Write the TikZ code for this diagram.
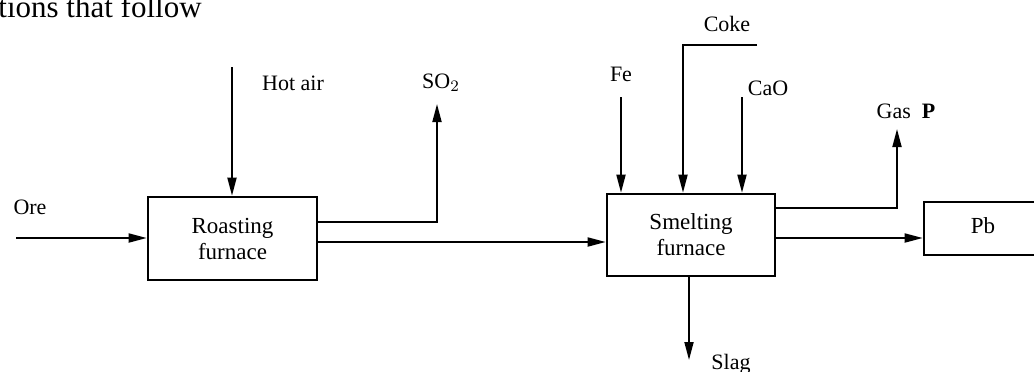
\documentclass[tikz,border=0pt]{standalone}
\usepackage{fontspec}
\setmainfont{Liberation Serif}
\usetikzlibrary{arrows.meta}
\begin{document}
\begin{tikzpicture}[x=0.5pt,y=-0.5pt,
  proc/.style={draw, line width=1.3pt, inner sep=0pt, font=\fontsize{11.5}{13}\selectfont, align=center},
  lbl/.style={inner sep=0pt, font=\fontsize{11}{13}\selectfont},
  flow/.style={line width=0.9pt, -{Triangle[length=9pt,width=4.5pt]}},
  pipe/.style={line width=0.9pt}]
\useasboundingbox (0,0) rectangle (1034,371);
\clip (0,0) rectangle (1034,371);
% cut-off page text
\node[inner sep=0pt, anchor=base west, font=\fontsize{15.5}{17}\selectfont] (top) at (-2,17) {tions that follow};
% boxes
\node[proc, minimum width=84.5pt, minimum height=41.5pt] (roast) at (232.5,238.5) {Roasting\\furnace};
\node[proc, minimum width=84pt, minimum height=41pt] (smelt) at (691,235) {Smelting\\furnace};
\node[proc, minimum width=60pt, minimum height=26.5pt] (pb) at (984,228.5) {};
\node[lbl, font=\fontsize{11.5}{13}\selectfont] (pbt) at (983,226) {Pb};
% labels
\node[lbl] (ore) at (30,207) {Ore};
\node[lbl] (hot) at (293,83) {Hot air};
\node[lbl] (so2) at (441,83) {SO$_2$};
\node[lbl] (fe) at (621,74) {Fe};
\node[lbl] (coke) at (727,24) {Coke};
\node[lbl] (cao) at (768,88) {CaO};
\node[lbl] (gas) at (906,111) {Gas\ \ \textbf{P}};
\node[lbl] (slag) at (731,364) {Slag};
% free ends
\coordinate (oreS) at (16,238);
\coordinate (hotS) at (232,67);
\coordinate (so2E) at (437,104);
\coordinate (feS) at (621,97);
\coordinate (cokeS) at (757,45);
\coordinate (cokeC) at (683,45);
\coordinate (caoS) at (742,97);
\coordinate (gasE) at (897,129);
\coordinate (slagE) at (689,360);
% connectors
\draw[flow] (oreS) -- (oreS -| roast.west);
\draw[flow] (hotS) -- (hotS |- roast.north);
\draw[flow] (roast.east |- 0,222) -| (so2E);
\draw[flow] (roast.east |- 0,242) -- (smelt.west |- 0,242);
\draw[flow] (feS) -- (feS |- smelt.north);
\draw[flow] (cokeS) -- (cokeC) -- (cokeC |- smelt.north);
\draw[flow] (caoS) -- (caoS |- smelt.north);
\draw[flow] (smelt.east |- 0,208) -| (gasE);
\draw[flow] (smelt.east |- 0,238) -- (pb.west |- 0,238);
\draw[flow] (slagE |- smelt.south) -- (slagE);
\end{tikzpicture}
\end{document}
